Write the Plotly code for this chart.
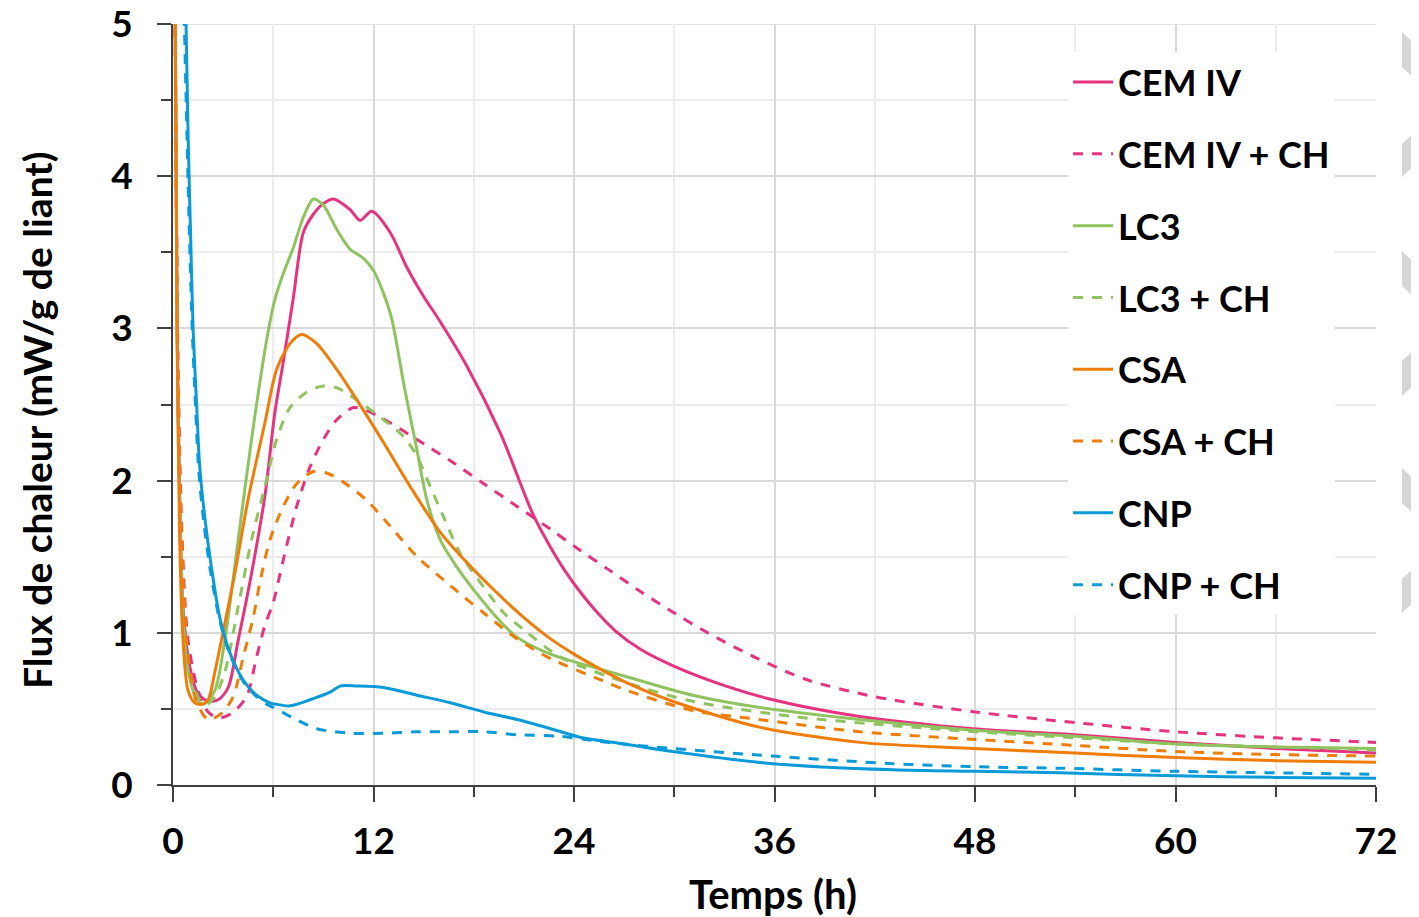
import plotly.graph_objects as go

# ---------------- data ----------------
t_cem4 = [0.1, 0.25, 0.4, 0.6, 1.0, 1.5, 2.1, 2.7, 3.3, 3.9, 4.7, 5.5, 6.1, 6.6, 7.2, 7.8, 8.4, 9.0, 9.6,
          10.6, 11.2, 11.9, 13.0, 14.0, 15.0, 15.9, 17.6, 19.6, 21.5, 22.5, 23.5, 24.5, 25.5, 26.5, 28.0,
          30.0, 33.1, 35.9, 41.1, 47.9, 54, 60, 66, 72]
y_cem4 = [5.6, 3.0, 1.9, 1.17, 0.78, 0.60, 0.55, 0.56, 0.64, 0.95, 1.39, 1.90, 2.45, 2.78, 3.20, 3.63, 3.75,
          3.82, 3.85, 3.78, 3.71, 3.77, 3.63, 3.40, 3.21, 3.06, 2.75, 2.31, 1.79, 1.58, 1.40, 1.25, 1.12,
          1.01, 0.89, 0.78, 0.65, 0.56, 0.45, 0.37, 0.33, 0.28, 0.24, 0.21]

t_cem4_ch = [0.1, 0.3, 0.55, 0.9, 1.5, 2.1, 2.7, 3.5, 4.4, 5.0, 5.5, 6.0, 6.6, 7.4, 8.2, 9.0, 9.8, 10.8,
             11.6, 13.0, 14.6, 16.6, 18.6, 20.6, 22.6, 24.0, 26.0, 28.0, 30.0, 32.0, 35.0, 38.0, 42.0, 48.0,
             54, 60, 66, 72]
y_cem4_ch = [5.6, 2.8, 1.6, 0.95, 0.62, 0.48, 0.44, 0.47, 0.58, 0.84, 1.05, 1.20, 1.48, 1.83, 2.09, 2.27,
             2.40, 2.48, 2.46, 2.38, 2.27, 2.13, 1.98, 1.83, 1.68, 1.57, 1.42, 1.27, 1.13, 1.00, 0.83, 0.69,
             0.58, 0.48, 0.41, 0.35, 0.31, 0.28]

t_lc3 = [0.1, 0.25, 0.45, 0.7, 1.0, 1.4, 1.8, 2.5, 3.1, 3.9, 4.7, 5.6, 6.1, 6.6, 7.2, 7.8, 8.4, 9.0, 9.8,
         10.6, 11.4, 12.0, 12.6, 13.1, 13.8, 14.6, 15.2, 16.0, 17.0, 18.6, 19.8, 20.6, 22.6, 25.6, 27.2,
         31.1, 35.1, 41.1, 47.9, 54, 60, 66, 72]
y_lc3 = [5.6, 2.9, 1.6, 0.95, 0.70, 0.57, 0.53, 0.62, 0.95, 1.61, 2.27, 2.92, 3.19, 3.36, 3.53, 3.73, 3.85,
         3.81, 3.65, 3.52, 3.46, 3.38, 3.23, 3.06, 2.64, 2.20, 1.87, 1.61, 1.43, 1.20, 1.05, 0.97, 0.86,
         0.76, 0.71, 0.59, 0.51, 0.43, 0.36, 0.32, 0.27, 0.25, 0.24]

t_lc3_ch = [0.1, 0.3, 0.5, 0.8, 1.2, 1.6, 2.0, 2.5, 3.1, 3.9, 4.7, 5.5, 6.2, 7.0, 8.0, 8.9, 9.8, 11.0, 12.6,
            13.8, 14.6, 15.4, 16.2, 17.2, 18.6, 19.8, 21.0, 23.2, 27.2, 31.1, 37.1, 43.1, 48, 54, 60, 66, 72]
y_lc3_ch = [5.6, 2.6, 1.5, 0.9, 0.66, 0.56, 0.53, 0.58, 0.74, 1.17, 1.61, 1.96, 2.27, 2.48, 2.58, 2.62, 2.61,
            2.53, 2.40, 2.29, 2.16, 1.96, 1.76, 1.52, 1.30, 1.13, 1.02, 0.84, 0.67, 0.55, 0.45, 0.39, 0.35,
            0.31, 0.27, 0.25, 0.23]

t_csa = [0.1, 0.25, 0.4, 0.6, 0.9, 1.3, 1.7, 2.1, 2.5, 3.1, 3.7, 4.5, 5.5, 6.2, 7.0, 7.7, 8.6, 9.8, 11.0,
         12.6, 14.2, 16.0, 17.6, 19.6, 21.0, 22.6, 24.0, 25.6, 27.2, 29.9, 35.1, 41.1, 47.9, 54, 60, 66, 72]
y_csa = [5.6, 2.92, 1.61, 0.95, 0.62, 0.54, 0.53, 0.56, 0.74, 1.06, 1.39, 1.88, 2.38, 2.73, 2.90, 2.96, 2.90,
         2.73, 2.53, 2.25, 1.96, 1.66, 1.46, 1.24, 1.10, 0.96, 0.86, 0.76, 0.67, 0.55, 0.38, 0.28, 0.24,
         0.21, 0.18, 0.16, 0.15]

t_csa_ch = [0.1, 0.3, 0.55, 0.9, 1.4, 2.1, 2.9, 3.6, 4.2, 4.8, 5.2, 5.8, 6.6, 7.4, 8.4, 9.2, 10.2, 11.6,
            13.0, 14.6, 16.6, 18.6, 20.6, 22.6, 25.6, 27.2, 31.1, 35.1, 41.1, 47.9, 54, 60, 66, 72]
y_csa_ch = [5.6, 2.6, 1.5, 0.85, 0.55, 0.43, 0.47, 0.58, 0.84, 1.10, 1.33, 1.61, 1.83, 1.98, 2.06, 2.05,
            1.99, 1.87, 1.70, 1.50, 1.31, 1.13, 0.96, 0.83, 0.69, 0.62, 0.49, 0.43, 0.35, 0.30, 0.26, 0.22,
            0.20, 0.19]

t_cnp = [0.55, 0.78, 0.9, 1.05, 1.2, 1.4, 1.6, 1.9, 2.3, 2.8, 3.4, 4.2, 5.0, 5.8, 6.2, 7.0, 8.2, 9.4, 10.0,
         11.0, 12.6, 14.6, 16.6, 18.6, 20.6, 22.6, 24.5, 27.0, 29.9, 35.9, 43.1, 48, 53.1, 60, 66, 72]
y_cnp = [5.8, 5.0, 4.28, 3.63, 3.0, 2.53, 2.09, 1.76, 1.43, 1.10, 0.87, 0.69, 0.59, 0.54, 0.53, 0.52, 0.56,
         0.61, 0.65, 0.65, 0.64, 0.59, 0.54, 0.48, 0.43, 0.37, 0.31, 0.27, 0.22, 0.14, 0.10, 0.09, 0.08,
         0.06, 0.05, 0.045]

t_cnp_ch = [0.5, 0.68, 0.85, 1.0, 1.15, 1.35, 1.55, 1.85, 2.25, 2.8, 3.4, 4.2, 5.0, 5.6, 6.0, 7.2, 8.6, 10.6,
            12.6, 14.6, 16.6, 18.6, 20.6, 23.2, 26.0, 29.9, 35.9, 43.1, 48, 53.1, 60, 66, 72]
y_cnp_ch = [5.8, 5.0, 4.2, 3.55, 3.0, 2.48, 2.05, 1.72, 1.40, 1.08, 0.86, 0.68, 0.58, 0.53, 0.51, 0.44,
            0.37, 0.34, 0.34, 0.35, 0.35, 0.35, 0.33, 0.32, 0.28, 0.24, 0.19, 0.14, 0.12, 0.11, 0.09, 0.08,
            0.07]

series_names = ["CEM IV", "CEM IV + CH", "LC3", "LC3 + CH", "CSA", "CSA + CH", "CNP", "CNP + CH"]
x_tick_vals = [0, 12, 24, 36, 48, 60, 72]
y_tick_vals = [0, 1, 2, 3, 4, 5]
x_range = [0, 72]
y_range = [0, 5]

# ---------------- styling ----------------
PINK = "#E6337F"
GREEN = "#8FC35F"
ORANGE = "#EF7D0A"
BLUE = "#0A9AD7"
FONT = "Lato"
DASH = "10px,9px"

series = [
    (t_cem4, y_cem4, PINK, "solid"),
    (t_cem4_ch, y_cem4_ch, PINK, DASH),
    (t_lc3, y_lc3, GREEN, "solid"),
    (t_lc3_ch, y_lc3_ch, GREEN, DASH),
    (t_csa, y_csa, ORANGE, "solid"),
    (t_csa_ch, y_csa_ch, ORANGE, DASH),
    (t_cnp, y_cnp, BLUE, "solid"),
    (t_cnp_ch, y_cnp_ch, BLUE, DASH),
]

fig = go.Figure()
for i, ((tx, ty, col, dash), name) in enumerate(zip(series, series_names)):
    fig.add_trace(go.Scatter(
        x=tx, y=ty, mode="lines", name=name, legendgroup=f"g{i}",
        line=dict(color=col, width=3, dash=dash, shape="spline", smoothing=0.8),
    ))

# page body has an 8px margin -> figure is offset by (8, 8) in the window
W, H = 1411, 909
ML, MR, MT, MB = 165, 43, 16, 132
PW = W - ML - MR
PH = H - MT - MB


def px_to_paper(px, py):
    return (px - 8 - ML) / PW, (H - MB + 8 - py) / PH


AX = "#404040"
GRID_MAJ = "#d9d9d9"
GRID_MIN = "#ececec"
fig.update_layout(
    width=W, height=H,
    margin=dict(l=ML, r=MR, t=MT, b=MB),
    paper_bgcolor="white", plot_bgcolor="white",
    font=dict(family=FONT, size=36, color="black", weight="bold"),
    showlegend=True,
    legend=dict(
        x=0.744, y=0.963, xanchor="left", yanchor="top",
        bgcolor="white", borderwidth=0,
        font=dict(family=FONT, size=36, color="black", weight="bold"),
        tracegroupgap=22, itemwidth=40,
    ),
    xaxis=dict(
        range=x_range, tickmode="array", tickvals=x_tick_vals, automargin=False,
        ticks="outside", ticklen=15, tickwidth=2, tickcolor=AX,
        showline=True, linecolor=AX, linewidth=2,
        showgrid=True, gridcolor=GRID_MAJ, gridwidth=1.5,
        zeroline=False, ticklabeloverflow="allow",
        minor=dict(dtick=6, tick0=0, ticks="outside", ticklen=10, tickwidth=2, tickcolor=AX,
                   showgrid=True, gridcolor=GRID_MIN, gridwidth=1.5),
        tickfont=dict(family=FONT, size=37, color="black", weight="bold"),
        ticklabelstandoff=8,
    ),
    yaxis=dict(
        range=y_range, tickmode="array", tickvals=y_tick_vals, automargin=False,
        ticks="outside", ticklen=14, tickwidth=2, tickcolor=AX,
        showline=True, linecolor=AX, linewidth=2,
        showgrid=True, gridcolor=GRID_MAJ, gridwidth=1.5,
        zeroline=False, ticklabeloverflow="allow",
        minor=dict(dtick=0.5, tick0=0, ticks="outside", ticklen=10, tickwidth=2, tickcolor=AX,
                   showgrid=True, gridcolor=GRID_MIN, gridwidth=1.5),
        tickfont=dict(family=FONT, size=37, color="black", weight="bold"),
        ticklabelstandoff=17,
    ),
)

# top gridline at the upper end of the y range
fig.add_shape(type="line", xref="paper", yref="y", x0=0, x1=1, y0=y_range[1], y1=y_range[1],
              line=dict(color=GRID_MAJ, width=1.5), layer="below")

# axis titles as annotations for exact placement
tx_, ty_ = px_to_paper(773, 894)
fig.add_annotation(text="Temps (h)", xref="paper", yref="paper", x=tx_, y=ty_,
                   xanchor="center", yanchor="middle", showarrow=False,
                   font=dict(family=FONT, size=40, color="black", weight="bold"))
yx_, yy_ = px_to_paper(37, 420)
fig.add_annotation(text="Flux de chaleur (mW/g de liant)", xref="paper", yref="paper",
                   x=yx_, y=yy_, xanchor="center", yanchor="middle", textangle=-90,
                   showarrow=False, font=dict(family=FONT, size=39, color="black", weight="bold"))

# light grey cropped decorations at the right edge of the reference image
blocks = [(32, 83, "down"), (128, 177, "up"), (251, 302, "down"),
          (345, 396, "up"), (468, 519, "down"), (563, 613, "up")]
for a, b, kind in blocks:
    if kind == "down":
        pts = [(1402, a), (1419, a + 16), (1419, b), (1402, b - 16)]
    else:
        pts = [(1402, a + 16), (1419, a), (1419, b - 16), (1402, b)]
    pp = [px_to_paper(x, y) for x, y in pts]
    path = "M " + " L ".join(f"{x:.5f},{y:.5f}" for x, y in pp) + " Z"
    fig.add_shape(type="path", path=path, xref="paper", yref="paper",
                  fillcolor="#d6d6d6", line=dict(width=0), layer="above")

fig.write_html("out.html")
